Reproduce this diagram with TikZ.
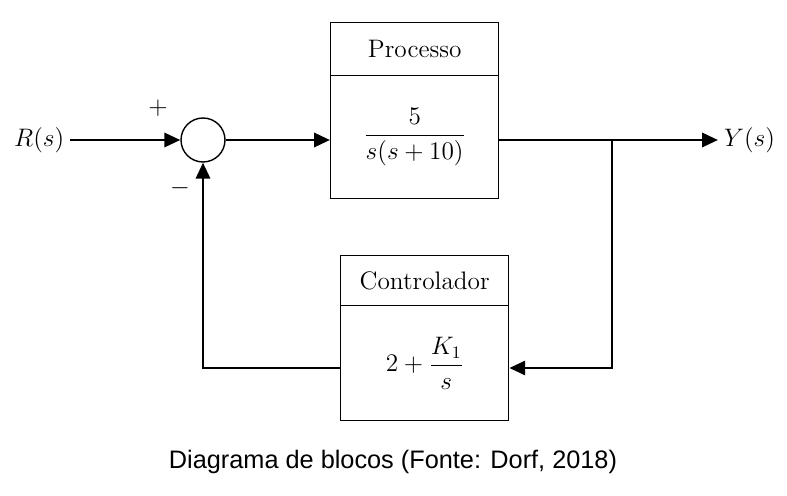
\documentclass[tikz,border=0pt]{standalone}
\usepackage{amsmath}
\usepackage{fontspec}
\newfontfamily\capfont{Liberation Sans}
\usetikzlibrary{arrows.meta}
\begin{document}
\begin{tikzpicture}[x=0.02cm, y=-0.02cm,
  sig/.style={line width=1.6pt, -{Triangle[length=9pt,width=8pt]}},
  blk/.style={draw, line width=0.8pt, minimum width=3.36cm, inner sep=0pt},
  lbl/.style={font=\Large}]
  \useasboundingbox (0,0) rectangle (787,496);

  % blocks
  \node[blk, minimum height=1.06cm, anchor=north west, font=\Large] (ph) at (330,22) {Processo};
  \node[blk, minimum height=2.46cm, anchor=north west, font=\Large] (pb) at (330,75) {$\dfrac{5}{s(s+10)}$};
  \node[blk, minimum height=1.0cm, anchor=north west, font=\Large] (ch) at (340,255) {Controlador};
  \node[blk, minimum height=2.3cm, anchor=north west, font=\Large] (cb) at (340,305) {$2+\dfrac{K_1}{s}$};

  % summing junction
  \node[draw, circle, line width=0.8pt, minimum size=0.88cm] (sum) at (203,140) {};

  % signals
  \node[lbl, anchor=west] (r) at (8,140) {$R(s)$};
  \node[lbl, anchor=west] (y) at (718,140) {$Y(s)$};
  \coordinate (br) at (612,140);
  \coordinate (bl) at (203,368);
  \draw[sig] (r.east) -- (sum.west);
  \draw[sig] (sum.east) -- (pb.west |- sum.east);
  \draw[sig] (pb.east |- br) -- (y.west);
  \draw[sig] (br) |- (cb.east |- bl);
  \draw[sig] (cb.west |- bl) -- (bl) -- (sum.south);

  % signs
  \node[lbl] (plus) at (158,108) {$+$};
  \node[lbl] (minus) at (180,188) {$-$};

  % caption
  \node[font=\capfont\Large] (cap) at (393,462) {Diagrama de blocos (Fonte: Dorf, 2018)};
\end{tikzpicture}
\end{document}
